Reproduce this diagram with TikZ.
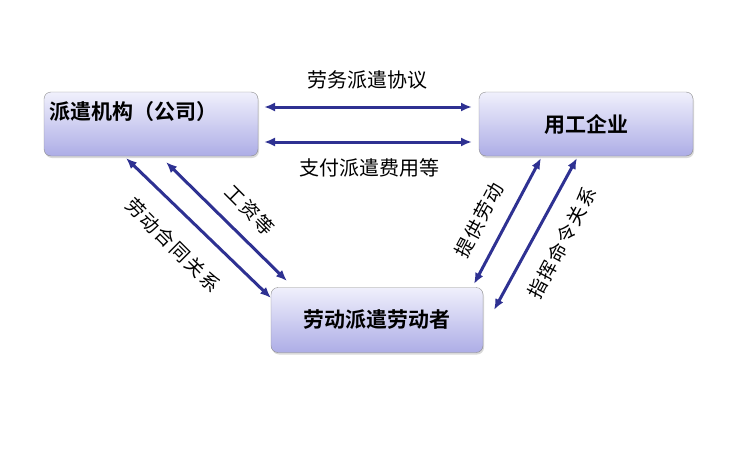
\documentclass[tikz,border=0pt]{standalone}
\usepackage{fontspec}
\newfontfamily\cjk{Noto Sans CJK SC}
\newfontfamily\cjkb{Noto Sans CJK SC Bold}
\newfontfamily\cjks[LetterSpace=10]{Noto Sans CJK SC}
\usetikzlibrary{arrows.meta,shadows}
\definecolor{navy}{HTML}{2E3192}
\definecolor{boxtop}{HTML}{F0F0FC}
\definecolor{boxbot}{HTML}{ADADE6}
\tikzset{
  party/.style={draw=black!45,rounded corners=7pt,top color=boxtop,bottom color=boxbot,
    drop shadow={opacity=0.3,shadow xshift=1pt,shadow yshift=-2pt},
    minimum width=214pt,minimum height=64pt,font=\cjkb\fontsize{21}{21}\selectfont},
  link/.style={{Latex[length=11pt,width=9pt]}-{Latex[length=11pt,width=9pt]},draw=navy,line width=3pt},
  lbl/.style={font=\cjk\fontsize{20}{20}\selectfont},
  slbl/.style={font=\cjks\fontsize{19}{19}\selectfont}
}
\begin{document}
\begin{tikzpicture}[x=1pt,y=-1pt]
\useasboundingbox (0,0) rectangle (750,450);
\node [party] (agency) at (151,124) {};
\node [anchor=west,font=\cjkb\fontsize{21}{21}\selectfont] (agencyt) at (46,112) {派遣机构（公司）};
\node [party] (firm) at (586,124) {用工企业};
\node [party,minimum width=212pt,minimum height=65pt] (worker) at (377,320) {劳动派遣劳动者};
% top links
\coordinate (t1) at (264,107); \coordinate (t2) at (472,107);
\coordinate (b1) at (264,142); \coordinate (b2) at (472,142);
\draw [link] (t1) -- (t2);
\draw [link] (b1) -- (b2);
\node [lbl] (deal) at (367,80) {劳务派遣协议};
\node [lbl] (pay) at (369,168) {支付派遣费用等};
% left links
\coordinate (l1) at (126,158); \coordinate (l2) at (271,298);
\coordinate (l3) at (166,162); \coordinate (l4) at (287,281);
\draw [link] (l1) -- (l2);
\draw [link] (l3) -- (l4);
\node [slbl,rotate=-45] (contract) at (173,245) {劳动合同关系};
\node [slbl,rotate=-45] (wage) at (250,210) {工资等};
% right links
\coordinate (r1) at (541,158); \coordinate (r2) at (474,284);
\coordinate (r3) at (577,158); \coordinate (r4) at (494,310);
\draw [link] (r1) -- (r2);
\draw [link] (r3) -- (r4);
\node [slbl,rotate=62] (labour) at (479,220) {提供劳动};
\node [slbl,rotate=62] (command) at (562,243) {指挥命令关系};
\end{tikzpicture}
\end{document}
